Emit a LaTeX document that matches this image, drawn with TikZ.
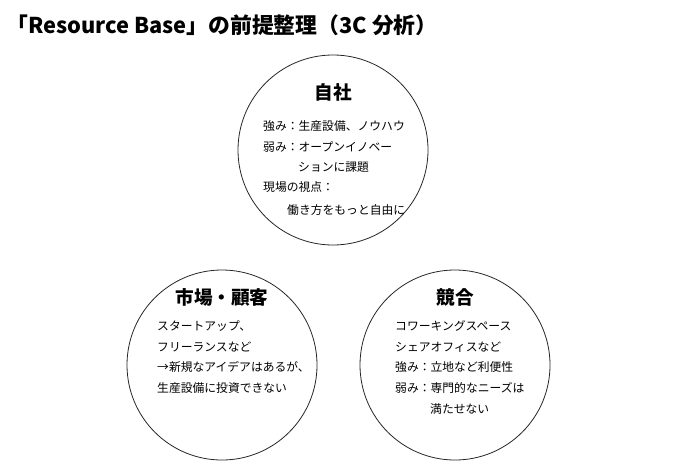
\documentclass[tikz,border=0pt]{standalone}
\usepackage{fontspec}
\setmainfont{Noto Sans CJK JP}
\begin{document}
\begin{tikzpicture}[x=1pt,y=-1pt,
  circ/.style={draw=black!85,line width=0.8pt,circle,minimum size=190pt,inner sep=0pt},
  head/.style={font=\fontsize{18.6}{22}\selectfont\bfseries},
  body/.style={anchor=west,inner sep=0pt,font=\fontsize{11.8}{14}\selectfont}]
\useasboundingbox (0,0) rectangle (700,460);
\node[anchor=west,inner sep=0pt,font=\fontsize{21.8}{25}\selectfont\bfseries] (title) at (6,25) {「Resource Base」の前提整理（3C 分析）};
\node[circ] (c1) at (333,150) {};
\node[circ] (c2) at (222,365) {};
\node[circ] (c3) at (455,365) {};
\node[head] (h1) at (333,92) {自社};
\node[head] (h2) at (222,297) {市場・顧客};
\node[head] (h3) at (455,297) {競合};
\node[body] (a1) at (263,126) {強み：生産設備、ノウハウ};
\node[body] (a2) at (263,147) {弱み：オープンイノベー};
\node[body] (a3) at (298,167) {ションに課題};
\node[body] (a4) at (263,187) {現場の視点：};
\node[body] (a5) at (287,210) {働き方をもっと自由に};
\node[body] (b1) at (157,326) {スタートアップ、};
\node[body] (b2) at (157,347) {フリーランスなど};
\node[body] (b3) at (157,367) {→新規なアイデアはあるが、};
\node[body] (b4) at (157,388) {生産設備に投資できない};
\node[body] (d1) at (395,326) {コワーキングスペース};
\node[body] (d2) at (395,347) {シェアオフィスなど};
\node[body] (d3) at (395,367) {強み：立地など利便性};
\node[body] (d4) at (395,388) {弱み：専門的なニーズは};
\node[body] (d5) at (430,409) {満たせない};
\end{tikzpicture}
\end{document}
